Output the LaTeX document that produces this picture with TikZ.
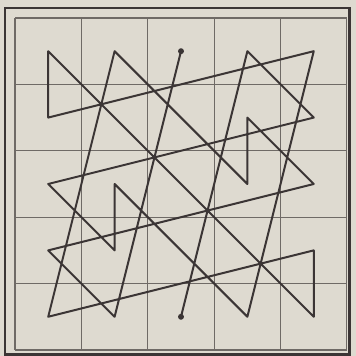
\documentclass[tikz,border=0pt]{standalone}
\usetikzlibrary{calc}
\definecolor{MSPaper}{HTML}{DEDAD0}
\definecolor{MSInk}{HTML}{3B3535}
\definecolor{MSGrid}{HTML}{6F6A66}
\tikzset{
  frame/.style={draw=MSInk,line width=1.2pt},
  gridline/.style={draw=MSGrid,line width=0.45pt},
  route/.style={draw=MSInk,line width=0.85pt,line join=round},
  enddot/.style={circle,fill=MSInk,inner sep=0pt,minimum size=0.9mm},
}

\begin{document}
\begin{tikzpicture}
    % paper and outer frame
    \fill[MSPaper] (-0.226,-0.09) rectangle (5.136,5.271);
    \useasboundingbox (-0.226,-0.09) rectangle (5.136,5.271);
    \draw[frame] (-0.15,-0.07) rectangle (5.04,5.15);

    % 5 x 5 board
    \draw[gridline] (0,0) grid (5,5);

    % cell centres, c<col><row>, row 0 on top
    \foreach \c in {0,...,4}{
      \foreach \r in {0,...,4}{
        \coordinate (c\c\r) at (\c+.5,4.5-\r);
      }
    }

    % route of the numbers 1..25
    \draw[route] (c20) -- (c14) -- (c03) -- (c42) -- (c31) -- (c32)
      -- (c21) -- (c10) -- (c04) -- (c43) -- (c44) -- (c33) -- (c22)
      -- (c11) -- (c00) -- (c01) -- (c40) -- (c34) -- (c23) -- (c12)
      -- (c13) -- (c02) -- (c41) -- (c30) -- (c24);
    \node[enddot] (first) at (c20) {};
    \node[enddot] (last) at (c24) {};
  \end{tikzpicture}
\end{document}
